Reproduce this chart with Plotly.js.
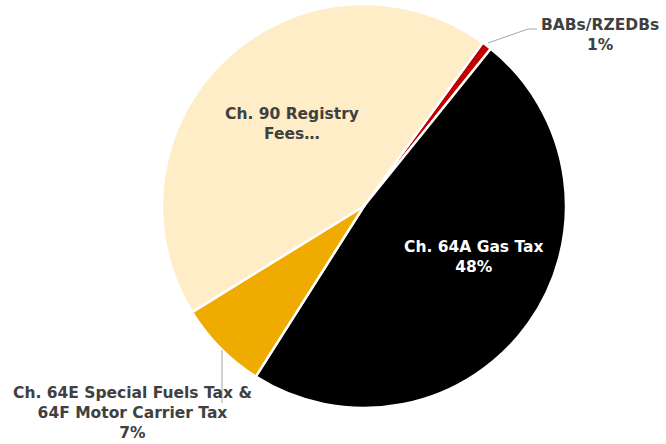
<!DOCTYPE html>
<html>
<head>
<meta charset="utf-8">
<script src="https://cdn.plot.ly/plotly-3.0.1.min.js"></script>
<style>
html,body{margin:0;padding:0;background:#fff;}
#chart{width:666px;height:444px;}
</style>
</head>
<body>
<div id="chart"></div>
<script>
// Data
const labels = ["BABs/RZEDBs", "Ch. 64A Gas Tax", "Ch. 64E Special Fuels Tax & 64F Motor Carrier Tax", "Ch. 90 Registry Fees"];
const values = [0.8, 48.2, 7.2, 43.8];
const labelText = ["BABs/RZEDBs<br>1%", "Ch. 64A Gas Tax<br>48%", "Ch. 64E Special Fuels Tax &<br>64F Motor Carrier Tax<br>7%", "Ch. 90 Registry<br>Fees…"];
const colors = ["#C00000", "#000000", "#F0AB00", "#FFEDC8"];

const W = 666, H = 444;
const px = x => x / W;
const py = y => 1 - y / H;

const trace = {
  type: "pie",
  labels: labels,
  values: values,
  sort: false,
  direction: "clockwise",
  rotation: 36,
  textinfo: "none",
  hoverinfo: "label+percent",
  marker: {colors: colors, line: {color: "#FFFFFF", width: 2.5}},
  domain: {x: [px(364 - 202), px(364 + 202)], y: [py(408), py(4)]},
  showlegend: false
};

const fontBase = {family: "DejaVu Sans, Verdana, sans-serif", size: 15.5, weight: "bold"};
const labelPos = [
  {x: 600, y: 35, color: "#404040"},
  {x: 474, y: 257, color: "#FFFFFF"},
  {x: 132, y: 413, color: "#404040"},
  {x: 292, y: 124, color: "#404040"}
];
const annotations = labelText.map((t, i) => ({
  text: t,
  xref: "paper", yref: "paper",
  x: px(labelPos[i].x), y: py(labelPos[i].y),
  xanchor: "center", yanchor: "middle",
  showarrow: false,
  align: "center",
  font: Object.assign({}, fontBase, {color: labelPos[i].color})
}));

const shapes = [
  {type: "path", xref: "paper", yref: "paper",
   path: `M ${px(488)} ${py(43)} L ${px(528)} ${py(29)} L ${px(537)} ${py(29)}`,
   line: {color: "#A6A6A6", width: 1}},
  {type: "line", xref: "paper", yref: "paper",
   x0: px(222), y0: py(350), x1: px(222), y1: py(403),
   line: {color: "#A6A6A6", width: 1}}
];

const layout = {
  width: W, height: H,
  margin: {l: 0, r: 0, t: 0, b: 0},
  paper_bgcolor: "#FFFFFF",
  plot_bgcolor: "#FFFFFF",
  annotations: annotations,
  shapes: shapes
};

Plotly.newPlot("chart", [trace], layout, {displayModeBar: false, staticPlot: true});
</script>
</body>
</html>
